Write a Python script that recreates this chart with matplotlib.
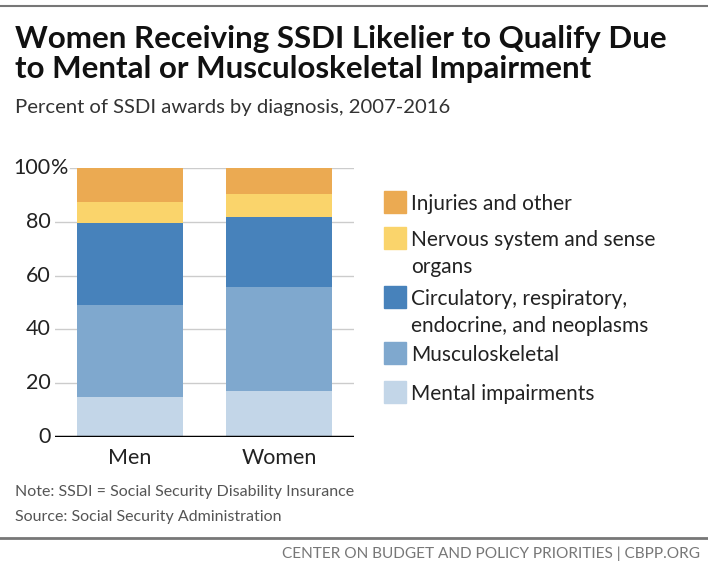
import matplotlib.pyplot as plt
from matplotlib.patches import Rectangle

plt.rcParams['font.family'] = ['Lato', 'DejaVu Sans']

groups = ["Men", "Women"]
categories = ["Mental impairments", "Musculoskeletal",
              "Circulatory, respiratory,\nendocrine, and neoplasms",
              "Nervous system and sense\norgans", "Injuries and other"]
men = [14.8, 34.1, 30.8, 7.8, 12.5]
women = [17.1, 38.5, 26.0, 8.8, 9.6]
colors = ["#c3d6e8", "#7fa8ce", "#4782bb", "#fad46b", "#ebaa52"]
yticks = [0, 20, 40, 60, 80, 100]

fig = plt.figure(figsize=(7.08, 5.7), dpi=100)
ax = fig.add_axes([55 / 708, 133 / 570, 299 / 708, 269 / 570])

x = [0, 1]
bottoms = [0, 0]
for vals_m, vals_w, c in zip(men, women, colors):
    vals = [vals_m, vals_w]
    ax.bar(x, vals, bottom=bottoms, width=0.71, color=c, zorder=3)
    bottoms = [b + v for b, v in zip(bottoms, vals)]

ax.set_xlim(-0.5, 1.5)
ax.set_ylim(0, 100)
for t in yticks[1:]:
    start = 0.05 if t == 100 else 0.0
    ax.axhline(t, xmin=start, xmax=1, color="#cccccc", lw=1, zorder=1)
ax.axhline(0, color="black", lw=2.5, zorder=4)

for s in ax.spines.values():
    s.set_visible(False)
ax.set_yticks([])
ax.set_xticks(x)
ax.set_xticklabels(groups, fontsize=15.5, color="#222222")
ax.tick_params(axis="x", length=0, pad=8)

# y labels, right-aligned numbers with hanging percent sign
for t in yticks:
    ax.text(-0.53, t, str(t), ha="right", va="center", fontsize=15.5,
            color="#222222", transform=ax.transData)
ax.text(-0.53, 100, "%", ha="left", va="center", fontsize=15.5, color="#222222")

# legend
leg_items = list(zip(categories, colors))[::-1]
leg_y = [202, 238, 297, 353, 392]
for (lab, c), yy in zip(leg_items, leg_y):
    fig.patches.append(Rectangle((384 / 708, 1 - (yy + 11) / 570), 22 / 708, 22 / 570,
                                 transform=fig.transFigure, color=c))
    fig.text(411 / 708, 1 - (yy - 8) / 570, lab, ha="left", va="top",
             fontsize=15, color="#222222", linespacing=1.45)

# top rule
fig.add_artist(plt.Line2D([0, 1], [1 - 6 / 570] * 2, transform=fig.transFigure,
                          color="#777777", lw=1.5))

fig.text(15 / 708, 1 - 25 / 570,
         "Women Receiving SSDI Likelier to Qualify Due\nto Mental or Musculoskeletal Impairment",
         ha="left", va="top", fontsize=22.5, fontweight="bold", color="#111111",
         linespacing=1.1)
fig.text(15 / 708, 1 - 108 / 570, "Percent of SSDI awards by diagnosis, 2007-2016",
         ha="left", va="center", fontsize=14.6, color="#333333")

fig.text(15 / 708, 1 - 492 / 570, "Note: SSDI = Social Security Disability Insurance",
         ha="left", va="center", fontsize=11.5, color="#555555")
fig.text(15 / 708, 1 - 517 / 570, "Source: Social Security Administration",
         ha="left", va="center", fontsize=11.5, color="#555555")
fig.add_artist(plt.Line2D([0, 1], [1 - 538 / 570] * 2, transform=fig.transFigure,
                          color="#777777", lw=2))
fig.text(700 / 708, 1 - 554 / 570, "CENTER ON BUDGET AND POLICY PRIORITIES | CBPP.ORG",
         ha="right", va="center", fontsize=11.1, color="#777777")

fig.savefig("out.png", dpi=100)
